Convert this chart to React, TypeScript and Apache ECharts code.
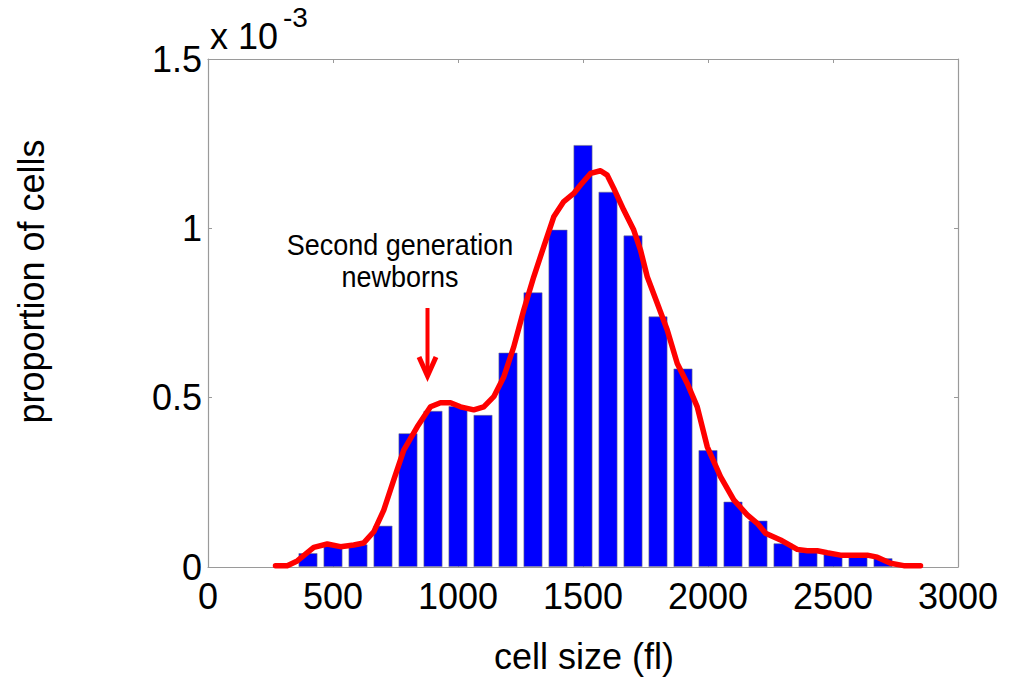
import React, { useEffect, useRef } from "react";
import * as echarts from "echarts";

// Histogram bins (cell size, fl) and proportions (x 10^-3)
const binCenters = [400, 500, 600, 700, 800, 900, 1000, 1100, 1200, 1300, 1400, 1500, 1600, 1700, 1800, 1900, 2000, 2100, 2200, 2300, 2400, 2500, 2600, 2700];
const binValues = [0.041, 0.063, 0.067, 0.122, 0.395, 0.461, 0.475, 0.449, 0.633, 0.811, 0.996, 1.246, 1.108, 0.979, 0.74, 0.586, 0.345, 0.193, 0.137, 0.07, 0.045, 0.038, 0.035, 0.026];

// Density curve
const curveX = [270, 317, 357, 423, 477, 530, 583, 623, 663, 703, 743, 783, 837, 890, 930, 970, 1010, 1063, 1103, 1143, 1183, 1223, 1263, 1303, 1343, 1383, 1423, 1463, 1490, 1530, 1570, 1597, 1623, 1663, 1703, 1730, 1757, 1797, 1837, 1877, 1917, 1957, 1997, 2050, 2103, 2157, 2197, 2230, 2290, 2357, 2397, 2437, 2477, 2530, 2637, 2677, 2730, 2783, 2850];
const curveY = [0.004, 0.004, 0.018, 0.058, 0.068, 0.06, 0.065, 0.071, 0.104, 0.168, 0.257, 0.345, 0.414, 0.473, 0.485, 0.485, 0.473, 0.464, 0.473, 0.503, 0.561, 0.65, 0.759, 0.857, 0.946, 1.034, 1.079, 1.103, 1.128, 1.162, 1.17, 1.157, 1.118, 1.054, 0.995, 0.936, 0.857, 0.779, 0.7, 0.601, 0.542, 0.473, 0.355, 0.267, 0.198, 0.154, 0.129, 0.1, 0.08, 0.052, 0.048, 0.048, 0.042, 0.035, 0.035, 0.029, 0.011, 0.004, 0.004];

const xTicks = { min: 0, max: 3000, interval: 500 };
const yTicks = { min: 0, max: 1.5, interval: 0.5 };

const FONT = "'Liberation Sans', Arial, Helvetica, sans-serif";
const AXIS_COLOR = "#9a9a9a";

export default function App() {
  const ref = useRef<HTMLDivElement>(null);
  useEffect(() => {
    if (!ref.current) return;
    const chart = echarts.init(ref.current, undefined, { renderer: "svg" });
    const axisCommon = {
      axisLine: { show: true, onZero: false, lineStyle: { color: AXIS_COLOR, width: 1.2 } },
      axisTick: { show: true, inside: true, length: 4, lineStyle: { color: AXIS_COLOR } },
      splitLine: { show: false },
    };
    chart.setOption({
      animation: false,
      backgroundColor: "#ffffff",
      grid: { left: 208, top: 59, width: 750, height: 508 },
      xAxis: [
        {
          type: "value", ...xTicks, position: "bottom", ...axisCommon,
          axisLabel: { color: "#000", fontSize: 36, fontFamily: FONT, margin: 11, formatter: (v: number) => String(v) },
        },
        {
          type: "value", ...xTicks, position: "top", ...axisCommon,
          axisLabel: { show: false },
        },
      ],
      yAxis: [
        {
          type: "value", ...yTicks, position: "left", ...axisCommon,
          axisLabel: { color: "#000", fontSize: 36, fontFamily: FONT, margin: 6, padding: [7, 0, 0, 0], formatter: (v: number) => String(v) },
        },
        {
          type: "value", ...yTicks, position: "right", ...axisCommon,
          axisLabel: { show: false },
        },
      ],
      series: [
        {
          type: "bar",
          xAxisIndex: 0,
          yAxisIndex: 0,
          barWidth: 19,
          data: binCenters.map((c, i) => [c, binValues[i]]),
          itemStyle: { color: "#0000ff", borderColor: "rgba(120,120,120,0.7)", borderWidth: 0.8 },
          z: 2,
        },
        {
          type: "line",
          xAxisIndex: 0,
          yAxisIndex: 0,
          data: curveX.map((x, i) => [x, curveY[i]]),
          showSymbol: false,
          symbol: "none",
          smooth: false,
          lineStyle: { color: "#ff0000", width: 5.5, cap: "round", join: "round" },
          z: 3,
        },
      ],
      graphic: [
        { type: "text", x: 210, y: 36.5, style: { text: "x 10", fontSize: 36, fontFamily: FONT, fill: "#000", textAlign: "left", textVerticalAlign: "middle" } },
        { type: "text", x: 283, y: 17.5, style: { text: "-3", fontSize: 28, fontFamily: FONT, fill: "#000", textAlign: "left", textVerticalAlign: "middle" } },
        { type: "text", x: 584, y: 656, style: { text: "cell size (fl)", fontSize: 36, fontFamily: FONT, fill: "#000", textAlign: "center", textVerticalAlign: "middle" } },
        { type: "text", x: 31, y: 281.5, rotation: Math.PI / 2, style: { text: "proportion of cells", fontSize: 36, fontFamily: FONT, fill: "#000", textAlign: "center", textVerticalAlign: "middle" } },
        { type: "text", x: 400, y: 245.5, scaleX: 0.93, style: { text: "Second generation", fontSize: 29, fontFamily: FONT, fill: "#000", textAlign: "center", textVerticalAlign: "middle" } },
        { type: "text", x: 400, y: 277.5, scaleX: 0.93, style: { text: "newborns", fontSize: 29, fontFamily: FONT, fill: "#000", textAlign: "center", textVerticalAlign: "middle" } },
        { type: "line", shape: { x1: 427.5, y1: 308, x2: 427.5, y2: 374 }, style: { stroke: "#ff0000", lineWidth: 4 } },
        { type: "polyline", shape: { points: [[419, 357], [427.5, 376], [436, 357]] }, style: { stroke: "#ff0000", lineWidth: 5, fill: "none", lineJoin: "miter" } },
      ],
    });
    return () => chart.dispose();
  }, []);
  return <div ref={ref} style={{ position: "fixed", left: 0, top: 0, width: 1021, height: 682, background: "#fff" }} />;
}
